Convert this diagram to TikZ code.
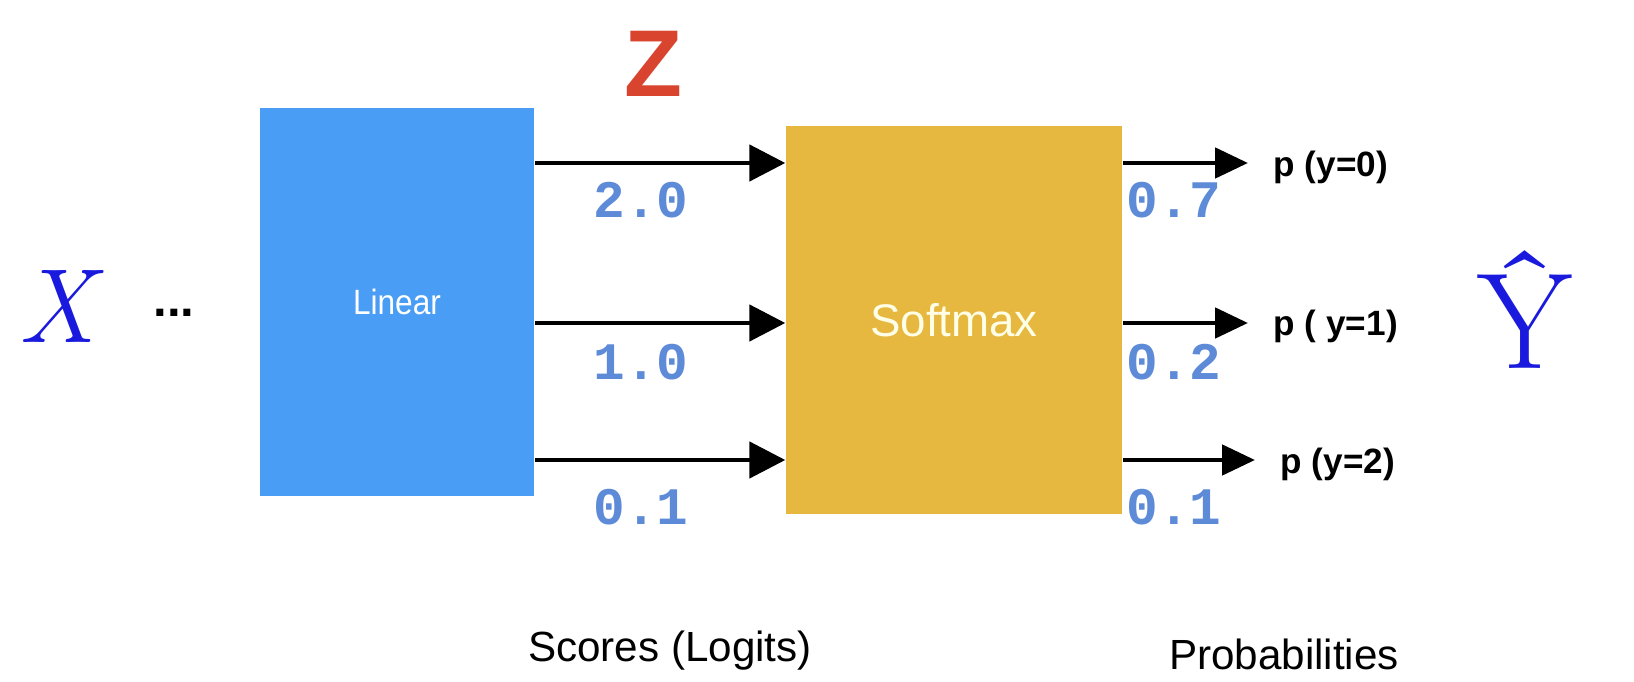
\documentclass[tikz,border=0pt]{standalone}
\usepackage{fontspec}
\setsansfont{Liberation Sans}
\setmonofont{Liberation Mono}
\usetikzlibrary{arrows.meta}

\definecolor{linblue}{RGB}{74,157,245}
\definecolor{softyel}{RGB}{230,184,64}
\definecolor{numblue}{RGB}{94,139,216}
\definecolor{letblue}{RGB}{26,26,222}
\definecolor{zred}{RGB}{217,68,47}

\begin{document}
\begin{tikzpicture}[
    box/.style={minimum height=3.88cm, inner sep=0pt},
    score/.style={text=numblue, font=\ttfamily\bfseries\fontsize{15}{18}\selectfont},
    plab/.style={anchor=west, inner sep=0pt, font=\sffamily\bfseries\fontsize{10}{12}\selectfont},
    captext/.style={font=\sffamily\fontsize{12}{14}\selectfont},
    arr/.style={line width=1.4pt, -{Triangle[length=3.6mm, width=3.6mm]}},
    outarr/.style={line width=1.4pt, -{Triangle[length=3.3mm, width=3mm]}, shorten >=2.5mm}
  ]
            % Fix the page to the picture size
            \useasboundingbox (0,0) rectangle (16.34,6.81);
            % Input and the two blocks
            \node[text=letblue, font=\rmfamily\itshape\fontsize{30}{36}\selectfont] (x) at (0.57,3.75) {X};
            \node[font=\sffamily\bfseries\fontsize{14}{16}\selectfont] (dots) at (1.74,3.68) {...};
            \node[box, fill=linblue, minimum width=2.74cm, text=white, font=\sffamily\fontsize{10}{12}\selectfont] (lin) at (3.97,3.79) {\scalebox{0.9}[1]{Linear}};
            \node[box, fill=softyel, minimum width=3.36cm, text=white!90!yellow, font=\sffamily\fontsize{13}{16}\selectfont] (soft) at (9.54,3.61) {Softmax};
            \node[text=zred, font=\sffamily\bfseries\fontsize{27}{30}\selectfont] (z) at (6.53,6.17) {Z};

            % One row per class
            \coordinate (r0) at (0,5.18);
            \coordinate (r1) at (0,3.58);
            \coordinate (r2) at (0,2.21);

            % Output labels
            \node[plab] (p0) at (12.73,5.14) {p (y=0)};
            \node[plab] (p1) at (12.73,3.55) {p ( y=1)};
            \node[plab] (p2) at (12.80,2.17) {p (y=2)};
            \node[text=letblue, font=\rmfamily\fontsize{39}{46}\selectfont] (yhat) at (15.25,3.71) {Ŷ};

            % Scores into softmax
            \draw[arr] (lin.east |- r0) -- (soft.west |- r0);
            \draw[arr] (lin.east |- r1) -- (soft.west |- r1);
            \draw[arr] (lin.east |- r2) -- (soft.west |- r2);
            % Probabilities out
            \draw[outarr] (soft.east |- r0) -- (p0.west |- r0);
            \draw[outarr] (soft.east |- r1) -- (p1.west |- r1);
            \draw[outarr] (soft.east |- r2) -- (p2.west |- r2);

            % Values
            \node[score] (s0) at (6.41,4.81) {2.0};
            \node[score] (s1) at (6.41,3.19) {1.0};
            \node[score] (s2) at (6.41,1.74) {0.1};
            \node[score] (q0) at (11.74,4.81) {0.7};
            \node[score] (q1) at (11.74,3.19) {0.2};
            \node[score] (q2) at (11.74,1.74) {0.1};

            % Captions
            \node[captext] (sc) at (6.70,0.30) {Scores (Logits)};
            \node[captext] (pr) at (12.84,0.27) {Probabilities};
        \end{tikzpicture}
\end{document}
